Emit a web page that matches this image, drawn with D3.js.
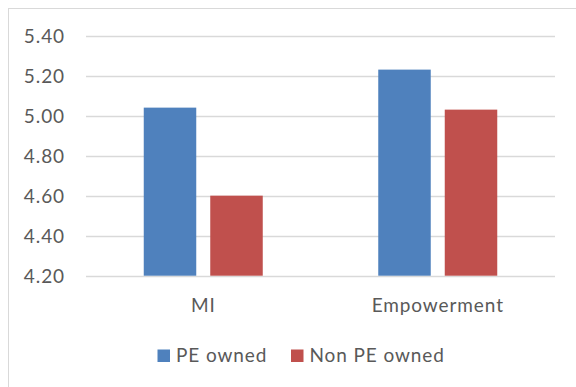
<!DOCTYPE html>
<html>
<head>
<meta charset="utf-8">
<script src="https://cdnjs.cloudflare.com/ajax/libs/d3/7.8.5/d3.min.js"></script>
<style>
  html, body { margin: 0; padding: 0; background: #fff; }
  svg { display: block; }
  text { font-family: Lato, "Open Sans", sans-serif; fill: #595959; letter-spacing: 0.9px; }
</style>
</head>
<body>
<svg id="chart" width="576" height="387"></svg>
<script>
// Survey means by ownership type
const categories = ["MI", "Empowerment"];
const seriesNames = ["PE owned", "Non PE owned"];
const peOwned = [5.04, 5.23];
const nonPeOwned = [4.60, 5.03];
const yTicks = [4.20, 4.40, 4.60, 4.80, 5.00, 5.20, 5.40];
const colors = ["#4f81bd", "#c0504d"];

const svg = d3.select("#chart");
const W = 576, H = 387;

// Chart frame (only top and left edges fall inside the canvas)
svg.append("rect")
  .attr("x", 8.5).attr("y", 8.5)
  .attr("width", W + 10).attr("height", H + 10)
  .attr("fill", "#fff").attr("stroke", "#d9d9d9").attr("stroke-width", 1);

const plot = { left: 86, right: 555, top: 35.6, bottom: 275.7 };

const x = d3.scaleBand().domain(categories)
  .range([plot.left, plot.right]).paddingInner(0).paddingOuter(0);
const y = d3.scaleLinear().domain([4.2, 5.4]).range([plot.bottom, plot.top]);

// Gridlines
svg.append("g").selectAll("line").data(yTicks).join("line")
  .attr("x1", plot.left).attr("x2", plot.right)
  .attr("y1", d => Math.round(y(d)) + 0.5).attr("y2", d => Math.round(y(d)) + 0.5)
  .attr("stroke", "#d9d9d9").attr("stroke-width", 1.4);

// Y axis labels
const yAxis = d3.axisLeft(y).tickValues(yTicks).tickFormat(d3.format(".2f")).tickSize(0).tickPadding(0);
const gy = svg.append("g").attr("transform", `translate(65,0)`).call(yAxis);
gy.select(".domain").remove();
gy.selectAll("text")
  .attr("font-family", "Lato, 'Open Sans', sans-serif")
  .attr("font-size", 19).attr("fill", "#595959").attr("dy", "0.36em");

// Grouped bars
const barW = 52.5, gap = 14;
const groupW = barW * 2 + gap;
const rows = categories.map((c, i) => ({ cat: c, vals: [peOwned[i], nonPeOwned[i]] }));
const groups = svg.append("g").selectAll("g").data(rows).join("g")
  .attr("transform", d => `translate(${x(d.cat) + (x.bandwidth() - groupW) / 2},0)`);
groups.selectAll("rect").data(d => d.vals.map((v, j) => ({ v, j })))
  .join("rect")
  .attr("x", d => d.j * (barW + gap))
  .attr("width", barW)
  .attr("y", d => y(d.v))
  .attr("height", d => y(4.2) - y(d.v))
  .attr("fill", d => colors[d.j]);

// Category labels
const xAxis = d3.axisBottom(x).tickSize(0).tickPadding(0);
const gx = svg.append("g").attr("transform", `translate(0,${plot.bottom})`).call(xAxis);
gx.select(".domain").remove();
gx.selectAll("text")
  .attr("font-family", "Lato, 'Open Sans', sans-serif")
  .attr("font-size", 19).attr("fill", "#595959")
  .attr("dy", null).attr("y", 36);

// Legend
const legendX = [157.5, 291];
const lg = svg.append("g").selectAll("g").data(seriesNames).join("g")
  .attr("transform", (d, i) => `translate(${legendX[i]},349.5)`);
lg.append("rect").attr("width", 12.5).attr("height", 12.5).attr("fill", (d, i) => colors[i]);
lg.append("text").attr("x", 18.5).attr("y", 12.5)
  .attr("font-size", 19).text(d => d);
</script>
</body>
</html>
